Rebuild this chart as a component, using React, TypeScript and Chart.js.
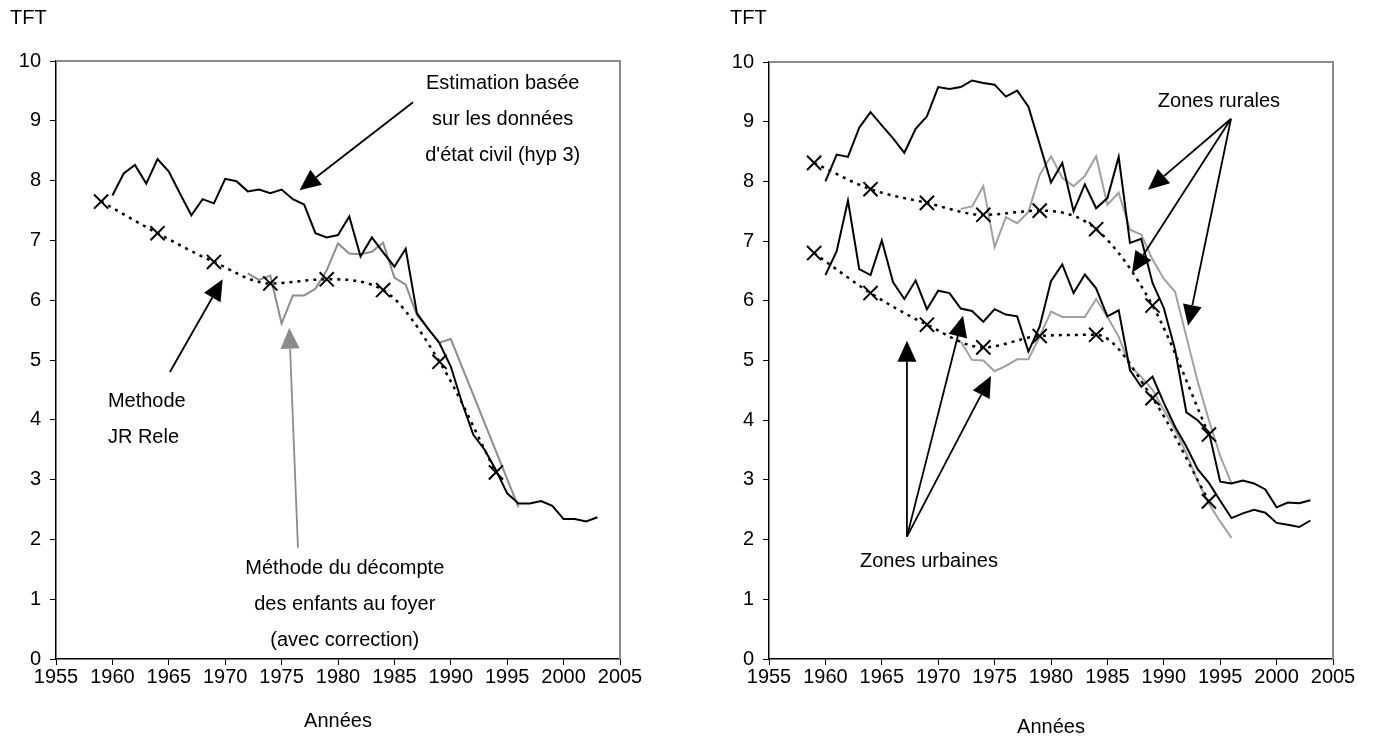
import React, { useEffect, useRef } from "react";
import { Chart, registerables } from "chart.js";

Chart.register(...registerables);

// ---------------- Data: left panel (ensemble) ----------------
const yearsEtatCivil = [
  1960, 1961, 1962, 1963, 1964, 1965, 1966, 1967, 1968, 1969,
  1970, 1971, 1972, 1973, 1974, 1975, 1976, 1977, 1978, 1979,
  1980, 1981, 1982, 1983, 1984, 1985, 1986, 1987, 1988, 1989,
  1990, 1991, 1992, 1993, 1994, 1995, 1996, 1997, 1998, 1999,
  2000, 2001, 2002, 2003,
];
const ensembleEtatCivil = [
  7.75, 8.12, 8.26, 7.95, 8.36, 8.15, 7.78, 7.42, 7.69, 7.62,
  8.03, 7.99, 7.82, 7.85, 7.79, 7.85, 7.69, 7.6, 7.12, 7.05,
  7.09, 7.4, 6.73, 7.05, 6.8, 6.56, 6.86, 5.78, 5.52, 5.28,
  4.89, 4.28, 3.75, 3.5, 3.16, 2.77, 2.6, 2.6, 2.64, 2.56,
  2.34, 2.34, 2.3, 2.37,
];
const yearsDecompteEnsemble = [
  1972, 1973, 1974, 1975, 1976, 1977, 1978, 1979, 1980, 1981,
  1982, 1983, 1984, 1985, 1986, 1987, 1988, 1989, 1990, 1996,
];
const ensembleDecompte = [
  6.45, 6.34, 6.41, 5.61, 6.08, 6.08, 6.19, 6.5, 6.95, 6.78,
  6.77, 6.81, 6.96, 6.38, 6.26, 5.75, 5.52, 5.29, 5.35, 2.54,
];
const yearsRele = [1959, 1964, 1969, 1974, 1979, 1984, 1989, 1994];
const ensembleRele = [7.65, 7.12, 6.64, 6.28, 6.35, 6.17, 4.97, 3.12];

// ---------------- Data: right panel (zones) ----------------
const ruralEtatCivil = [
  8.0, 8.45, 8.41, 8.9, 9.16, 8.94, 8.72, 8.48, 8.88, 9.09,
  9.58, 9.55, 9.58, 9.69, 9.65, 9.62, 9.42, 9.52, 9.25, 8.62,
  7.98, 8.31, 7.5, 7.95, 7.55, 7.72, 8.41, 6.97, 7.04, 6.3,
  5.88, 5.18, 4.13, 4.0, 3.8, 2.97, 2.94, 2.99, 2.94, 2.84,
  2.54, 2.62, 2.61, 2.66,
];
const urbainEtatCivil = [
  6.43, 6.83, 7.68, 6.53, 6.43, 7.01, 6.31, 6.03, 6.34, 5.86,
  6.17, 6.13, 5.87, 5.83, 5.65, 5.86, 5.77, 5.74, 5.15, 5.57,
  6.33, 6.61, 6.13, 6.44, 6.21, 5.74, 5.84, 4.84, 4.56, 4.73,
  4.29, 3.89, 3.56, 3.18, 2.95, 2.65, 2.36, 2.44, 2.5, 2.45,
  2.28, 2.25, 2.21, 2.32,
];
const yearsDecompteZones = [
  1972, 1973, 1974, 1975, 1976, 1977, 1978, 1979, 1980, 1981,
  1982, 1983, 1984, 1985, 1986, 1987, 1988, 1989, 1990, 1991,
  1992, 1993, 1994, 1995, 1996,
];
const ruralDecompte = [
  7.54, 7.58, 7.92, 6.9, 7.4, 7.3, 7.49, 8.11, 8.42, 8.06,
  7.92, 8.09, 8.42, 7.61, 7.81, 7.19, 7.11, 6.69, 6.37, 6.15,
  5.4, 4.65, 4.0, 3.4, 2.94,
];
const urbainDecompte = [
  5.32, 5.01, 5.0, 4.82, 4.91, 5.02, 5.02, 5.4, 5.82, 5.73,
  5.73, 5.73, 6.03, 5.73, 5.4, 4.9, 4.73, 4.51, 4.17, 3.84,
  3.45, 2.98, 2.6, 2.3, 2.03,
];
const ruralRele = [8.31, 7.87, 7.64, 7.44, 7.51, 7.2, 5.92, 3.76];
const urbainRele = [6.8, 6.13, 5.6, 5.22, 5.41, 5.43, 4.37, 2.64];

// ---------------- Axis ticks ----------------
const xTickValues = [1955, 1960, 1965, 1970, 1975, 1980, 1985, 1990, 1995, 2000, 2005];
const yTickValues = [0, 1, 2, 3, 4, 5, 6, 7, 8, 9, 10];

// ---------------- Annotations (data coordinates) ----------------
const leftTexts = [
  { lines: ["Estimation basée", "sur les données", "d'état civil (hyp 3)"], x: 1994.6, y: 9.62, align: "center" },
  { lines: ["Methode", "JR Rele"], x: 1959.6, y: 4.31, align: "left" },
  { lines: ["Méthode du décompte", "des enfants au foyer", "(avec correction)"], x: 1980.6, y: 1.52, align: "center" },
];
const leftArrows = [
  { from: [1986.65, 9.31], to: [1976.59, 7.84], gray: false },
  { from: [1965.1, 4.8], to: [1969.78, 6.35], gray: false },
  { from: [1976.45, 1.86], to: [1975.68, 5.54], gray: true },
];
const rightTexts = [
  { lines: ["Zones rurales"], x: 1994.89, y: 9.34, align: "center" },
  { lines: ["Zones urbaines"], x: 1969.18, y: 1.63, align: "center" },
];
const rightArrows = [
  { from: [1995.96, 9.05], to: [1988.6, 7.86], gray: false },
  { from: [1995.96, 9.05], to: [1987.18, 6.47], gray: false },
  { from: [1995.96, 9.05], to: [1992.15, 5.58], gray: false },
  { from: [1967.23, 2.05], to: [1967.23, 5.33], gray: false },
  { from: [1967.23, 2.05], to: [1972.2, 5.75], gray: false },
  { from: [1967.23, 2.05], to: [1974.68, 4.74], gray: false },
];

const FONT_FAMILY = '"Liberation Sans", Arial, Helvetica, sans-serif';
const FONT_SIZE = 20;
const LINE_GAP = 36;

const pts = (xs: number[], ys: number[]) => xs.map((x, i) => ({ x, y: ys[i] }));

const solid = (label: string, xs: number[], ys: number[], color: string) => ({
  label,
  data: pts(xs, ys),
  borderColor: color,
  borderWidth: 2,
  pointRadius: 0,
  tension: 0,
  fill: false,
});

const rele = (label: string, xs: number[], ys: number[]) => ({
  label,
  data: pts(xs, ys),
  borderColor: "#000",
  borderWidth: 2.5,
  borderDash: [3, 5],
  cubicInterpolationMode: "monotone",
  pointStyle: "crossRot",
  pointRadius: 10,
  pointBorderWidth: 2,
  pointBorderColor: "#000",
  pointBackgroundColor: "rgba(0,0,0,0)",
  fill: false,
});

function drawArrow(ctx: CanvasRenderingContext2D, x1: number, y1: number, x2: number, y2: number, color: string) {
  const ang = Math.atan2(y2 - y1, x2 - x1);
  const L = 21;
  const W = 9.5;
  const bx = x2 - L * Math.cos(ang);
  const by = y2 - L * Math.sin(ang);
  ctx.save();
  ctx.strokeStyle = color;
  ctx.lineWidth = 1.8;
  ctx.beginPath();
  ctx.moveTo(x1, y1);
  ctx.lineTo(bx, by);
  ctx.stroke();
  ctx.fillStyle = color;
  ctx.beginPath();
  ctx.moveTo(x2, y2);
  ctx.lineTo(bx + W * Math.sin(ang), by - W * Math.cos(ang));
  ctx.lineTo(bx - W * Math.sin(ang), by + W * Math.cos(ang));
  ctx.closePath();
  ctx.fill();
  ctx.restore();
}

type PanelProps = {
  left: number;
  width: number;
  datasets: any[];
  texts: any[];
  arrows: any[];
  padLeft: number;
  padRight: number;
  padTop: number;
  tftOffset: number;
  titlePadBottom: number;
  grayColor: string;
};

function Panel(props: PanelProps) {
  const ref = useRef<HTMLCanvasElement>(null);
  useEffect(() => {
    if (!ref.current) return;
    const font = { family: FONT_FAMILY, size: FONT_SIZE };
    const framePlugin = {
      id: "frame",
      beforeDatasetsDraw(chart: any) {
        const { ctx, chartArea } = chart;
        ctx.save();
        ctx.strokeStyle = "#8a8a8a";
        ctx.lineWidth = 2;
        ctx.beginPath();
        ctx.moveTo(chartArea.left, chartArea.top);
        ctx.lineTo(chartArea.right, chartArea.top);
        ctx.lineTo(chartArea.right, chartArea.bottom);
        ctx.stroke();
        ctx.restore();
      },
    };
    const annotPlugin = {
      id: "annot",
      afterDraw(chart: any) {
        const { ctx, chartArea } = chart;
        const xs = chart.scales.x;
        const ys = chart.scales.y;
        ctx.save();
        ctx.font = `${FONT_SIZE}px ${FONT_FAMILY}`;
        ctx.fillStyle = "#000";
        ctx.textBaseline = "middle";
        ctx.textAlign = "left";
        ctx.fillText("TFT", chartArea.left + props.tftOffset, 18);
        for (const t of props.texts) {
          ctx.textAlign = t.align;
          const px = xs.getPixelForValue(t.x);
          const py = ys.getPixelForValue(t.y);
          t.lines.forEach((line: string, i: number) => ctx.fillText(line, px, py + i * LINE_GAP));
        }
        ctx.restore();
        for (const a of props.arrows) {
          drawArrow(
            ctx,
            xs.getPixelForValue(a.from[0]),
            ys.getPixelForValue(a.from[1]),
            xs.getPixelForValue(a.to[0]),
            ys.getPixelForValue(a.to[1]),
            a.gray ? props.grayColor : "#000"
          );
        }
      },
    };
    const chart = new Chart(ref.current, {
      type: "line",
      data: { datasets: props.datasets },
      options: {
        animation: false,
        responsive: false,
        maintainAspectRatio: false,
        devicePixelRatio: 1,
        events: [],
        layout: { padding: { left: props.padLeft, right: props.padRight, top: props.padTop, bottom: 0 } },
        plugins: { legend: { display: false }, tooltip: { enabled: false }, title: { display: false } },
        scales: {
          x: {
            type: "linear",
            min: 1955,
            max: 2005,
            afterBuildTicks: (s: any) => {
              s.ticks = xTickValues.map((v) => ({ value: v }));
            },
            afterFit: (s: any) => {
              s.height = 85;
            },
            ticks: {
              autoSkip: false,
              maxRotation: 0,
              minRotation: 0,
              color: "#000",
              font,
              padding: 0,
              callback: (v: any) => String(v),
            },
            grid: { drawOnChartArea: false, drawTicks: true, tickLength: 6, color: "#000", lineWidth: 1 },
            border: { display: true, color: "#000", width: 1.5 },
            title: { display: true, text: "Années", color: "#000", font, padding: { top: 0, bottom: props.titlePadBottom } },
          },
          y: {
            type: "linear",
            min: 0,
            max: 10,
            afterBuildTicks: (s: any) => {
              s.ticks = yTickValues.map((v) => ({ value: v }));
            },
            afterFit: (s: any) => {
              s.width = 56;
            },
            ticks: { color: "#000", font, padding: 9, callback: (v: any) => String(v) },
            grid: { drawOnChartArea: false, drawTicks: true, tickLength: 6, color: "#000", lineWidth: 1 },
            border: { display: true, color: "#000", width: 1.5 },
          },
        },
      } as any,
      plugins: [framePlugin, annotPlugin],
    } as any);
    return () => chart.destroy();
  }, []);
  return (
    <canvas
      ref={ref}
      width={props.width}
      height={744}
      style={{ position: "absolute", left: props.left, top: 0, width: props.width, height: 744, display: "block" }}
    />
  );
}

export default function App() {
  const leftGray = "#8c8c8c";
  const rightGray = "#a0a0a0";
  const leftDatasets = [
    solid("Estimation état civil (hyp 3)", yearsEtatCivil, ensembleEtatCivil, "#000"),
    rele("Méthode JR Rele", yearsRele, ensembleRele),
    solid("Méthode du décompte des enfants au foyer", yearsDecompteEnsemble, ensembleDecompte, leftGray),
  ];
  const rightDatasets = [
    solid("Rural état civil", yearsEtatCivil, ruralEtatCivil, "#000"),
    solid("Urbain état civil", yearsEtatCivil, urbainEtatCivil, "#000"),
    rele("Rural JR Rele", yearsRele, ruralRele),
    rele("Urbain JR Rele", yearsRele, urbainRele),
    solid("Rural décompte", yearsDecompteZones, ruralDecompte, rightGray),
    solid("Urbain décompte", yearsDecompteZones, urbainDecompte, rightGray),
  ];
  return (
    <div style={{ position: "absolute", left: 0, top: 0, width: 1375, height: 744, background: "#fff", overflow: "hidden" }}>
      <Panel
        left={0}
        width={680}
        datasets={leftDatasets}
        texts={leftTexts}
        arrows={leftArrows}
        padLeft={0}
        padRight={60}
        padTop={61}
        tftOffset={-46}
        titlePadBottom={11}
        grayColor={leftGray}
      />
      <Panel
        left={690}
        width={685}
        datasets={rightDatasets}
        texts={rightTexts}
        arrows={rightArrows}
        padLeft={23}
        padRight={42}
        padTop={62}
        tftOffset={-39}
        titlePadBottom={5}
        grayColor={rightGray}
      />
    </div>
  );
}
